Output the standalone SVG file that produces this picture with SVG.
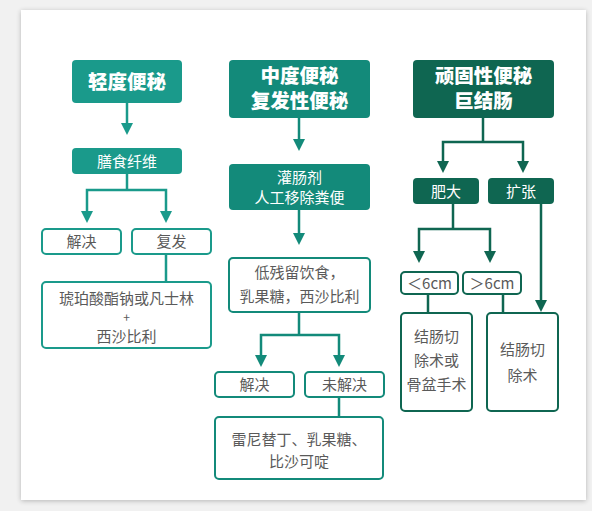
<svg xmlns="http://www.w3.org/2000/svg" width="592" height="511" viewBox="0 0 592 511">
<defs>
<filter id="sh" x="-5%" y="-5%" width="110%" height="110%">
<feGaussianBlur in="SourceAlpha" stdDeviation="2.5"/>
<feOffset dx="0" dy="1" result="b"/>
<feComponentTransfer><feFuncA type="linear" slope="0.25"/></feComponentTransfer>
<feMerge><feMergeNode/><feMergeNode in="SourceGraphic"/></feMerge>
</filter>
</defs>
<style>
.t1{fill:#1a9a8b}
.t2{fill:#138a7a}
.t3{fill:#0f6651}
.o1{fill:#fff;stroke:#1a9a8b;stroke-width:2}
.o2{fill:#fff;stroke:#138a7a;stroke-width:2}
.o3{fill:#fff;stroke:#0f6651;stroke-width:2}
.l1{fill:none;stroke:#1a9a8b;stroke-width:2.5}
.l2{fill:none;stroke:#138a7a;stroke-width:2.5}
.l3{fill:none;stroke:#0f6651;stroke-width:2.5}
.h1{fill:#1a9a8b}
.h2{fill:#138a7a}
.h3{fill:#0f6651}
.tt{font-family:"Noto Sans CJK SC","Noto Sans",sans-serif;font-weight:900;font-size:19.5px;fill:#fff;text-anchor:middle}
.tw{font-family:"Noto Sans CJK SC","Noto Sans",sans-serif;font-size:15px;fill:#fff;text-anchor:middle}
.tb{font-family:"Noto Sans CJK SC","Noto Sans",sans-serif;font-size:15px;fill:#5a5a5a;text-anchor:middle}
.tp{font-family:"Noto Sans CJK SC","Noto Sans",sans-serif;font-size:12px;fill:#5a5a5a;text-anchor:middle}
</style>
<rect x="0" y="0" width="592" height="511" fill="#f1f1f1"/>
<rect x="21" y="10" width="565" height="490" fill="#fff" filter="url(#sh)"/>

<g id="connectors">
<line class="l1" x1="127" y1="103" x2="127" y2="124"/>
<polygon class="h1" points="121,123 133,123 127,135"/>
<polyline class="l1" points="127,174 127,190"/>
<polyline class="l1" points="87,212 87,190 166,190 166,212"/>
<polygon class="h1" points="81,211 93,211 87,223"/>
<polygon class="h1" points="160,211 172,211 166,223"/>
<line class="l1" x1="166" y1="254" x2="166" y2="282"/>
<line class="l2" x1="299" y1="118" x2="299" y2="140"/>
<polygon class="h2" points="293,139 305,139 299,151"/>
<line class="l2" x1="299" y1="210" x2="299" y2="234"/>
<polygon class="h2" points="293,233 305,233 299,245"/>
<polyline class="l2" points="299,312 299,335"/>
<polyline class="l2" points="261,356 261,335 339,335 339,356"/>
<polygon class="h2" points="255,355 267,355 261,367"/>
<polygon class="h2" points="333,355 345,355 339,367"/>
<line class="l2" x1="339" y1="397" x2="339" y2="417"/>
<line class="l3" x1="483" y1="118" x2="483" y2="142"/>
<polyline class="l3" points="443,162 443,142 523,142 523,162"/>
<polygon class="h3" points="437,161 449,161 443,173"/>
<polygon class="h3" points="517,161 529,161 523,173"/>
<line class="l3" x1="453" y1="204" x2="453" y2="229"/>
<polyline class="l3" points="419,252 419,229 490,229 490,252"/>
<polygon class="h3" points="413,251 425,251 419,263"/>
<polygon class="h3" points="484,251 496,251 490,263"/>
<line class="l3" x1="541" y1="204" x2="541" y2="301"/>
<polygon class="h3" points="535,300 547,300 541,312"/>
<line class="l3" x1="428" y1="294" x2="428" y2="313"/>
<line class="l3" x1="503" y1="294" x2="503" y2="313"/>
</g>

<g id="n-mild">
<rect class="t1" x="72" y="60" width="110" height="43" rx="4"/>
<text class="tt" x="127" y="88.5">轻度便秘</text>
</g>
<g id="n-fiber">
<rect class="t1" x="72" y="148" width="110" height="26" rx="4"/>
<text class="tw" x="127" y="166.5">膳食纤维</text>
</g>
<g id="n-resolve1">
<rect class="o1" x="42" y="229" width="79" height="25" rx="4"/>
<text class="tb" x="81.5" y="247">解决</text>
</g>
<g id="n-relapse1">
<rect class="o1" x="132" y="229" width="79" height="25" rx="4"/>
<text class="tb" x="171.5" y="247">复发</text>
</g>
<g id="n-succinate">
<rect class="o1" x="42" y="282" width="169" height="66" rx="4"/>
<text class="tb" x="126.5" y="304">琥珀酸酯钠或凡士林</text>
<text class="tp" x="126.5" y="322">+</text>
<text class="tb" x="126.5" y="342">西沙比利</text>
</g>

<g id="n-moderate">
<rect class="t2" x="229" y="60" width="141" height="58" rx="4"/>
<text class="tt" x="299.5" y="83">中度便秘</text>
<text class="tt" x="299.5" y="108">复发性便秘</text>
</g>
<g id="n-enema">
<rect class="t2" x="229" y="164" width="141" height="46" rx="4"/>
<text class="tw" x="299.5" y="183">灌肠剂</text>
<text class="tw" x="299.5" y="203">人工移除粪便</text>
</g>
<g id="n-diet">
<rect class="o2" x="229" y="258" width="141" height="54" rx="4"/>
<text class="tb" x="299.5" y="278">低残留饮食，</text>
<text class="tb" x="299.5" y="302">乳果糖，西沙比利</text>
</g>
<g id="n-resolve2">
<rect class="o2" x="215" y="372" width="79" height="25" rx="4"/>
<text class="tb" x="254.5" y="390">解决</text>
</g>
<g id="n-unresolved">
<rect class="o2" x="305" y="372" width="79" height="25" rx="4"/>
<text class="tb" x="344.5" y="390">未解决</text>
</g>
<g id="n-ranitidine">
<rect class="o2" x="215" y="417" width="168" height="62" rx="4"/>
<text class="tb" x="299" y="445">雷尼替丁、乳果糖、</text>
<text class="tb" x="299" y="467">比沙可啶</text>
</g>

<g id="n-refractory">
<rect class="t3" x="413" y="60" width="141" height="58" rx="4"/>
<text class="tt" x="483.5" y="83">顽固性便秘</text>
<text class="tt" x="483.5" y="108">巨结肠</text>
</g>
<g id="n-hypertrophy">
<rect class="t3" x="413" y="178" width="66" height="26" rx="4"/>
<text class="tw" x="446" y="196.5">肥大</text>
</g>
<g id="n-dilation">
<rect class="t3" x="488" y="178" width="66" height="26" rx="4"/>
<text class="tw" x="521" y="196.5">扩张</text>
</g>
<g id="n-lt6">
<rect class="o3" x="401" y="272" width="57" height="22" rx="4"/>
<text class="tb" x="429.5" y="288.5">＜6cm</text>
</g>
<g id="n-gt6">
<rect class="o3" x="463" y="272" width="58" height="22" rx="4"/>
<text class="tb" x="492" y="288.5">＞6cm</text>
</g>
<g id="n-surgery1">
<rect class="o3" x="401" y="313" width="71" height="98" rx="4"/>
<text class="tb" x="436.5" y="342">结肠切</text>
<text class="tb" x="436.5" y="366">除术或</text>
<text class="tb" x="436.5" y="390">骨盆手术</text>
</g>
<g id="n-surgery2">
<rect class="o3" x="487" y="313" width="71" height="98" rx="4"/>
<text class="tb" x="522.5" y="355">结肠切</text>
<text class="tb" x="522.5" y="381">除术</text>
</g>
</svg>
